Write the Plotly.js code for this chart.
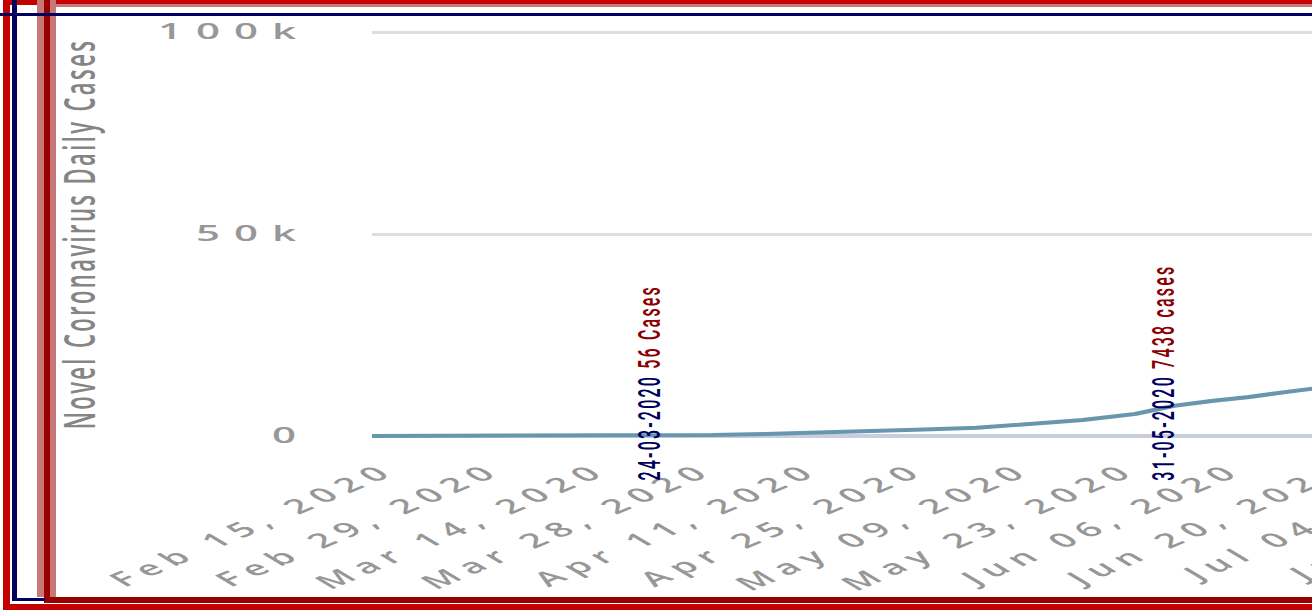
<!DOCTYPE html>
<html>
<head>
<meta charset="utf-8">
<script src="https://cdn.plot.ly/plotly-3.0.1.min.js"></script>
<style>
  html, body { margin: 0; padding: 0; background: #fff; width: 1312px; height: 610px; overflow: hidden; }
  #wrap { position: absolute; left: 0; top: 0; width: 1312px; height: 610px; overflow: hidden; background: #fff; }
  /* chart is laid out narrow and stretched sideways */
  #chart { position: absolute; left: 0; top: 0; width: 1000px; height: 610px; transform: scale(2, 1); transform-origin: 0 0; }
  #chart .xtick text { letter-spacing: 5px; }
  #chart .ytick text { letter-spacing: 7px; }
  .ytitle { letter-spacing: 2.4px; }
  .annotation-text { letter-spacing: 2.2px; }
  .bar { position: absolute; }
</style>
</head>
<body>
<div id="wrap">
  <div id="chart"></div>
  <!-- framing rules around the panel -->
  <div class="bar" style="left:3px;top:0;width:1309px;height:5px;background:#c40000"></div>
  <div class="bar" style="left:44px;top:4px;width:1268px;height:3px;background:#c87878"></div>
  <div class="bar" style="left:3px;top:0;width:7px;height:610px;background:#c40000"></div>
  <div class="bar" style="left:3px;top:604px;width:1309px;height:6px;background:#c40000"></div>
  <div class="bar" style="left:37px;top:0;width:19px;height:597px;background:#c87878"></div>
  <div class="bar" style="left:44px;top:0;width:6px;height:603px;background:#990000"></div>
  <div class="bar" style="left:44px;top:597px;width:1268px;height:6px;background:#990000"></div>
  <div class="bar" style="left:12px;top:0;width:5px;height:601px;background:#00005e"></div>
  <div class="bar" style="left:12px;top:598px;width:33px;height:3px;background:#00005e"></div>
  <div class="bar" style="left:0;top:13px;width:1312px;height:3px;background:#00005e"></div>
</div>
<script>
// Daily new cases
const dates = [
  '2020-02-15', '2020-03-01', '2020-03-10', '2020-03-17', '2020-03-24',
  '2020-03-31', '2020-04-07', '2020-04-14', '2020-04-21', '2020-04-28',
  '2020-05-05', '2020-05-12', '2020-05-19', '2020-05-26', '2020-05-31',
  '2020-06-05', '2020-06-10', '2020-06-15', '2020-06-20'
];
const dailyCases = [
  0, 0, 10, 20, 56,
  230, 500, 800, 1200, 1600,
  2000, 2970, 3960, 5450, 7438,
  8660, 9650, 10900, 12100
];

// Highlighted days
const markDates = ['2020-03-24', '2020-05-31'];
const markCases = [56, 7438];
const markWords = ['Cases', 'cases'];

const yTitle = 'Novel Coronavirus Daily Cases';

function dmy(d) {
  const p = d.split('-');
  return p[2] + '-' + p[1] + '-' + p[0];
}

const trace = {
  type: 'scatter',
  mode: 'lines',
  x: dates,
  y: dailyCases,
  line: { color: '#6896ac', width: 4 },
  hoverinfo: 'x+y'
};

const annotations = markDates.map((d, i) => ({
  x: d,
  y: 0,
  xref: 'x',
  yref: 'y',
  xshift: -5,
  yshift: -47,
  yanchor: 'bottom',
  xanchor: 'center',
  showarrow: false,
  textangle: -90,
  text: '<span style="color:#00005e">' + dmy(d) + '</span> ' +
        '<span style="color:#8b0000">' + markCases[i] + ' ' + markWords[i] + '</span>',
  font: { family: 'Roboto, sans-serif', size: 16, weight: 500 }
}));

const layout = {
  width: 1000,
  height: 610,
  margin: { l: 186, r: 20, t: 24, b: 166 },
  paper_bgcolor: '#ffffff',
  plot_bgcolor: '#ffffff',
  showlegend: false,
  xaxis: {
    type: 'date',
    range: ['2020-02-15', '2020-09-12'],
    tick0: '2020-02-15',
    dtick: 14 * 86400000,
    tickformat: '%b %d, %Y',
    tickangle: -40,
    ticks: '',
    ticklabelstandoff: 10,
    ticklabelshift: 7,
    showgrid: false,
    zeroline: false,
    showline: false,
    tickfont: { family: 'Open Sans, sans-serif', size: 20, color: '#979797', weight: 600 }
  },
  yaxis: {
    range: [-2000, 102000],
    tick0: 0,
    dtick: 50000,
    tickformat: '~s',
    ticks: '',
    ticklabelstandoff: 30,
    showgrid: true,
    gridcolor: '#dedede',
    gridwidth: 3,
    zeroline: true,
    zerolinecolor: '#c9cde0',
    zerolinewidth: 4,
    showline: false,
    tickfont: { family: 'Open Sans, sans-serif', size: 21, color: '#979797', weight: 600 },
    title: {
      text: yTitle,
      standoff: 52,
      font: { family: 'Open Sans, sans-serif', size: 22, color: '#858585', weight: 600 }
    }
  },
  annotations: annotations
};

Plotly.newPlot('chart', [trace], layout, { displayModeBar: false, responsive: false });
</script>
</body>
</html>
